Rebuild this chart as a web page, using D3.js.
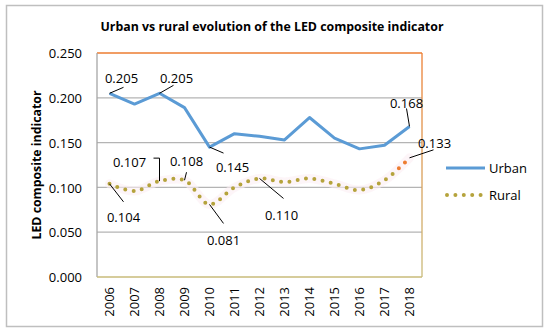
<!DOCTYPE html>
<html>
<head>
<meta charset="utf-8">
<script src="https://cdn.jsdelivr.net/npm/d3@7"></script>
<style>
  body { margin: 0; background: #fff; }
  text { font-family: "Open Sans", sans-serif; fill: #000; }
</style>
</head>
<body>
<div id="chart"></div>
<script>
// data
var years = ["2006", "2007", "2008", "2009", "2010", "2011", "2012", "2013", "2014", "2015", "2016", "2017", "2018"];
var urban = [0.205, 0.193, 0.205, 0.189, 0.145, 0.160, 0.157, 0.153, 0.178, 0.155, 0.143, 0.147, 0.168];
var rural = [0.104, 0.096, 0.107, 0.108, 0.081, 0.100, 0.110, 0.106, 0.110, 0.104, 0.097, 0.108, 0.133];
var yTicks = [0, 0.05, 0.10, 0.15, 0.20, 0.25];

// labelled points: series, index, text offset (dx, dy) and leader offsets
var labels = [
    { s: "urban", i: 0, dx: 12, dy: -15, leader: [[0, 0], [14, -6]] },
    { s: "urban", i: 2, dx: 17, dy: -15, leader: [[0, 0], [14, -8]] },
    { s: "urban", i: 4, dx: 23, dy: 20, leader: [[0, 0], [14, 6]] },
    { s: "urban", i: 12, dx: -3, dy: -23, leader: [[0, 0], [-3, -18]] },
    { s: "rural", i: 0, dx: 14, dy: 34, leader: [[0, 0], [14, 18]] },
    { s: "rural", i: 2, dx: -30, dy: -19, leader: [[0, 0], [0, -23], [-6, -23]] },
    { s: "rural", i: 3, dx: 2, dy: -19, leader: [[0, 0], [2, -8]] },
    { s: "rural", i: 4, dx: 14, dy: 36, leader: [[0, 0], [14, 19]] },
    { s: "rural", i: 6, dx: 22, dy: 37, leader: [[0, 0], [24, 20]] },
    { s: "rural", i: 12, dx: 25, dy: -15, leader: [[0, 0], [24, -8]] }
];

var W = 550, H = 336;
var margin = { top: 53, right: 128, bottom: 59, left: 97 },
    width = W - margin.left - margin.right,
    height = H - margin.top - margin.bottom;

var urbanColor = "#5B9BD5";
var ruralColor = "#B5A33C";
var lastColor = "#ED7D31";

var root = d3.select("#chart")
    .append("svg")
    .attr("width", W)
    .attr("height", H);

// outer frame
root.append("rect")
    .attr("x", 6.5).attr("y", 5.5)
    .attr("width", 536).attr("height", 321)
    .attr("fill", "#fff")
    .attr("stroke", "#BFBFBF")
    .attr("stroke-width", 1.5);

var defs = root.append("defs");
var grad = defs.append("linearGradient")
    .attr("id", "rightBorder")
    .attr("x1", 0).attr("y1", 0).attr("x2", 0).attr("y2", 1);
grad.append("stop").attr("offset", "0%").attr("stop-color", "#ED7D31");
grad.append("stop").attr("offset", "100%").attr("stop-color", "#C9BB7A");

var svg = root.append("g")
    .attr("transform", "translate(" + margin.left + "," + margin.top + ")");

// title
root.append("text")
    .attr("x", 272)
    .attr("y", 31)
    .attr("text-anchor", "middle")
    .attr("font-weight", "bold")
    .attr("font-size", "12.5px")
    .attr("textLength", 343)
    .attr("lengthAdjust", "spacingAndGlyphs")
    .text("Urban vs rural evolution of the LED composite indicator");

// scales
var x = d3.scaleBand()
    .domain(years)
    .range([0, width]);
var y = d3.scaleLinear()
    .domain([0, 0.25])
    .range([height, 0]);

function px(i) { return x(years[i]) + x.bandwidth() / 2; }

// gridlines
svg.append("g")
    .selectAll("line")
    .data(yTicks.slice(1, -1))
    .join("line")
    .attr("x1", 0).attr("x2", width)
    .attr("y1", function (d) { return y(d); })
    .attr("y2", function (d) { return y(d); })
    .attr("stroke", "#B4B4B4")
    .attr("stroke-width", 1.3);

// plot border
svg.append("line").attr("x1", 0).attr("x2", width).attr("y1", 0).attr("y2", 0)
    .attr("stroke", "#ED7D31").attr("stroke-width", 1.3);
svg.append("line").attr("x1", 0).attr("x2", 0).attr("y1", 0).attr("y2", height)
    .attr("stroke", "#A6A6A6").attr("stroke-width", 1.3);
svg.append("line").attr("x1", 0).attr("x2", width).attr("y1", height).attr("y2", height)
    .attr("stroke", "#C9BB7A").attr("stroke-width", 1.3);
svg.append("rect").attr("x", width - 0.65).attr("y", 0).attr("width", 1.3).attr("height", height)
    .attr("fill", "url(#rightBorder)");

// y axis
var yAxis = svg.append("g")
    .call(d3.axisLeft(y).tickValues(yTicks).tickFormat(d3.format(".3f")).tickSize(0).tickPadding(15));
yAxis.select(".domain").remove();
yAxis.selectAll("text")
    .attr("font-size", "13px")
    .attr("dy", "0.36em")
    .style("font-family", "'Open Sans', sans-serif")
    .attr("fill", "#000");

root.append("text")
    .attr("transform", "translate(41," + (margin.top + height / 2) + ") rotate(-90)")
    .attr("text-anchor", "middle")
    .attr("font-weight", "bold")
    .attr("font-size", "12.5px")
    .attr("textLength", 149)
    .attr("lengthAdjust", "spacingAndGlyphs")
    .text("LED composite indicator");

// x axis
var xAxis = svg.append("g")
    .attr("transform", "translate(0," + height + ")")
    .call(d3.axisBottom(x).tickSize(0).tickPadding(0));
xAxis.select(".domain").remove();
xAxis.selectAll("text")
    .attr("font-size", "13px")
    .style("font-family", "'Open Sans', sans-serif")
    .attr("fill", "#000")
    .attr("text-anchor", "end")
    .attr("transform", "rotate(-90)")
    .attr("x", -10)
    .attr("y", 0)
    .attr("dy", "0.36em");

// urban line
svg.append("path")
    .datum(urban)
    .attr("fill", "none")
    .attr("stroke", urbanColor)
    .attr("stroke-width", 3)
    .attr("stroke-linejoin", "round")
    .attr("d", d3.line()
        .x(function (d, i) { return px(i); })
        .y(function (d) { return y(d); })
    );

// rural smoothed dotted line
var ruralLine = d3.line()
    .x(function (d, i) { return px(i); })
    .y(function (d) { return y(d); })
    .curve(d3.curveCatmullRom.alpha(0.5));

svg.append("path")
    .datum(rural)
    .attr("fill", "none")
    .attr("stroke", "#FCEEF3")
    .attr("stroke-width", 9)
    .attr("stroke-linecap", "round")
    .attr("opacity", 0.6)
    .attr("d", ruralLine);

// last segment is drawn in orange (clip rects are in the plot group's coords)
var splitX = px(11) + 11;
defs.append("clipPath").attr("id", "lastSeg")
    .append("rect")
    .attr("x", splitX).attr("y", -margin.top)
    .attr("width", W).attr("height", H);
defs.append("clipPath").attr("id", "restSeg")
    .append("rect")
    .attr("x", -margin.left).attr("y", -margin.top)
    .attr("width", splitX + margin.left).attr("height", H);

svg.append("path")
    .datum(rural)
    .attr("fill", "none")
    .attr("stroke", ruralColor)
    .attr("stroke-width", 4)
    .attr("stroke-linecap", "round")
    .attr("stroke-dasharray", "0 8.4")
    .attr("clip-path", "url(#restSeg)")
    .attr("d", ruralLine);
svg.append("path")
    .datum(rural)
    .attr("fill", "none")
    .attr("stroke", lastColor)
    .attr("stroke-width", 4)
    .attr("stroke-linecap", "round")
    .attr("stroke-dasharray", "0 8.4")
    .attr("clip-path", "url(#lastSeg)")
    .attr("d", ruralLine);

// data labels with leader lines
var series = { urban: urban, rural: rural };
labels.forEach(function (l) {
    var cx = px(l.i), cy = y(series[l.s][l.i]);
    svg.append("path")
        .attr("fill", "none")
        .attr("stroke", "#000")
        .attr("stroke-width", 1)
        .attr("d", d3.line()(l.leader.map(function (p) { return [cx + p[0], cy + p[1]]; })));
    svg.append("text")
        .attr("x", cx + l.dx)
        .attr("y", cy + l.dy)
        .attr("text-anchor", "middle")
        .attr("dy", "0.36em")
        .attr("font-size", "13px")
        .text(d3.format(".3f")(series[l.s][l.i]));
});

// legend
var legend = root.append("g").attr("transform", "translate(446,0)");
legend.append("line")
    .attr("x1", 0).attr("x2", 39).attr("y1", 168).attr("y2", 168)
    .attr("stroke", urbanColor).attr("stroke-width", 3);
legend.append("text").attr("x", 43).attr("y", 168).attr("dy", "0.36em")
    .attr("font-size", "13px").text("Urban");
legend.append("line")
    .attr("x1", 1).attr("x2", 39).attr("y1", 195).attr("y2", 195)
    .attr("stroke", ruralColor).attr("stroke-width", 4)
    .attr("stroke-linecap", "round")
    .attr("stroke-dasharray", "0 8.4");
legend.append("text").attr("x", 43).attr("y", 195).attr("dy", "0.36em")
    .attr("font-size", "13px").text("Rural");
</script>
</body>
</html>
